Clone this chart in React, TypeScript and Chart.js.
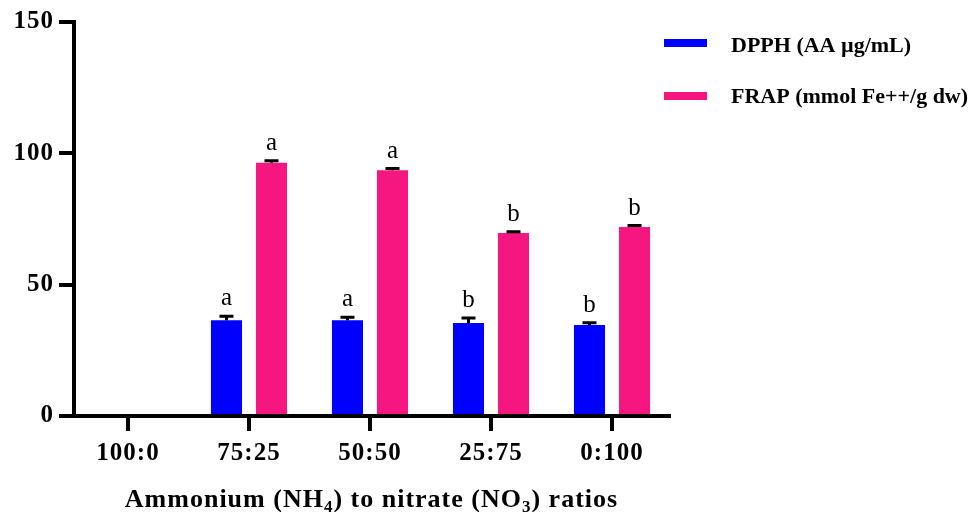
import React, { useEffect, useRef } from "react";
import { Chart, registerables } from "chart.js";

Chart.register(...registerables);

const categories = ["100:0", "75:25", "50:50", "25:75", "0:100"];
const seriesLabels = ["DPPH (AA µg/mL)", "FRAP (mmol Fe++/g dw)"];
const dpphValues: (number | null)[] = [null, 36.5, 36.5, 35.4, 34.6];
const dpphErrors: (number | null)[] = [null, 1.5, 1.1, 1.9, 0.9];
const frapValues: (number | null)[] = [null, 96.4, 93.6, 69.7, 72.0];
const frapErrors: (number | null)[] = [null, 0.8, 0.6, 0.4, 0.5];
const dpphLetters = ["", "a", "a", "b", "b"];
const frapLetters = ["", "a", "a", "b", "b"];
const yTicks = [0, 50, 100, 150];
const xTitleParts: { text: string; sub?: boolean }[] = [
  { text: "Ammonium (NH" },
  { text: "4", sub: true },
  { text: ") to nitrate (NO" },
  { text: "3", sub: true },
  { text: ") ratios" },
];

const BLUE = "#0000FF";
const PINK = "#F5167F";
const SERIF = "'Liberation Serif', 'Times New Roman', serif";

const errors = [dpphErrors, frapErrors];
const letters = [dpphLetters, frapLetters];
const colors = [BLUE, PINK];

const spacingPlugin = {
  id: "spacing",
  beforeDraw(chart: any) {
    (chart.ctx as any).letterSpacing = "1px";
  },
};

const errorBarPlugin = {
  id: "errorBars",
  afterDatasetsDraw(chart: any) {
    const ctx = chart.ctx;
    const yScale = chart.scales.y;
    chart.data.datasets.forEach((ds: any, i: number) => {
      const meta = chart.getDatasetMeta(i);
      meta.data.forEach((el: any, j: number) => {
        const v = ds.data[j].y;
        if (v === null || v === undefined) return;
        const e = errors[i][j] || 0;
        const yTop = yScale.getPixelForValue(v + e);
        ctx.save();
        (ctx as any).letterSpacing = "0px";
        ctx.strokeStyle = "#000";
        ctx.lineWidth = 3;
        ctx.beginPath();
        ctx.moveTo(el.x, el.y);
        ctx.lineTo(el.x, yTop);
        ctx.moveTo(el.x - 7, yTop);
        ctx.lineTo(el.x + 7, yTop);
        ctx.stroke();
        const letter = letters[i][j];
        if (letter) {
          ctx.fillStyle = "#000";
          ctx.font = `25px ${SERIF}`;
          ctx.textAlign = "center";
          ctx.textBaseline = "alphabetic";
          ctx.fillText(letter, el.x, yTop - 11);
        }
        ctx.restore();
      });
    });
  },
};

const decorPlugin = {
  id: "decor",
  afterDraw(chart: any) {
    const ctx = chart.ctx;
    const area = chart.chartArea;
    ctx.save();
    (ctx as any).letterSpacing = "1px";
    // x title with subscripts
    const mainFont = `bold 26px ${SERIF}`;
    const subFont = `bold 17px ${SERIF}`;
    let total = 0;
    xTitleParts.forEach((p) => {
      ctx.font = p.sub ? subFont : mainFont;
      total += ctx.measureText(p.text).width;
    });
    let x = (area.left + area.right) / 2 - total / 2;
    const baseline = 507;
    ctx.fillStyle = "#000";
    ctx.textAlign = "left";
    ctx.textBaseline = "alphabetic";
    xTitleParts.forEach((p) => {
      ctx.font = p.sub ? subFont : mainFont;
      ctx.fillText(p.text, x, p.sub ? baseline + 5 : baseline);
      x += ctx.measureText(p.text).width;
    });
    // legend
    (ctx as any).letterSpacing = "0px";
    const rows = [
      { y: 39, base: 52 },
      { y: 92, base: 103 },
    ];
    seriesLabels.forEach((label, i) => {
      ctx.fillStyle = colors[i];
      ctx.fillRect(664, rows[i].y, 43, 8);
      ctx.fillStyle = "#000";
      ctx.font = `bold 22px ${SERIF}`;
      ctx.fillText(label, 731, rows[i].base);
    });
    ctx.restore();
  },
};

export default function App() {
  const canvasRef = useRef<HTMLCanvasElement | null>(null);

  useEffect(() => {
    document.body.style.margin = "0";
    const canvas = canvasRef.current;
    if (!canvas) return;
    const chart = new Chart(canvas, {
      type: "bar",
      data: {
        datasets: [
          {
            label: seriesLabels[0],
            data: dpphValues.map((v, i) => ({ x: i, y: v })) as any,
            backgroundColor: BLUE,
            borderWidth: 0,
            categoryPercentage: 0.744,
            barPercentage: 0.69,
          },
          {
            label: seriesLabels[1],
            data: frapValues.map((v, i) => ({ x: i, y: v })) as any,
            backgroundColor: PINK,
            borderWidth: 0,
            categoryPercentage: 0.744,
            barPercentage: 0.69,
          },
        ],
      },
      options: {
        responsive: false,
        animation: false,
        devicePixelRatio: 1,
        layout: { padding: { top: 22, right: 305, bottom: 36, left: 0 } },
        plugins: {
          legend: { display: false },
          tooltip: { enabled: false },
          title: { display: false },
        },
        scales: {
          x: {
            type: "linear",
            offset: false,
            min: -0.446,
            max: 4.471,
            afterBuildTicks: (scale: any) => {
              scale.ticks = categories.map((_, i) => ({ value: i }));
            },
            afterFit: (scale: any) => {
              scale.height = 60;
            },
            ticks: {
              callback: (value: any) => categories[Math.round(Number(value))] ?? "",
              color: "#000",
              font: { family: SERIF, size: 25, weight: "bold" },
              padding: 8,
              maxRotation: 0,
              autoSkip: false,
            },
            grid: {
              display: true,
              offset: false,
              drawOnChartArea: false,
              drawTicks: true,
              tickLength: 15,
              tickWidth: 4,
              tickColor: "#000",
              color: "#000",
              lineWidth: 4,
            },
            border: { display: true, color: "#000", width: 4 },
          },
          y: {
            type: "linear",
            min: 0,
            max: 150,
            afterBuildTicks: (scale: any) => {
              scale.ticks = yTicks.map((v) => ({ value: v }));
            },
            afterFit: (scale: any) => {
              scale.width = 74;
            },
            ticks: {
              color: "#000",
              font: { family: SERIF, size: 25, weight: "bold" },
              padding: 5,
            },
            grid: {
              display: true,
              drawOnChartArea: false,
              drawTicks: true,
              tickLength: 15,
              tickWidth: 4,
              tickColor: "#000",
              color: "#000",
              lineWidth: 4,
            },
            border: { display: true, color: "#000", width: 4 },
          },
        },
      },
      plugins: [spacingPlugin, errorBarPlugin, decorPlugin],
    } as any);
    return () => chart.destroy();
  }, []);

  return (
    <div style={{ position: "absolute", left: 0, top: 0, width: 974, height: 512 }}>
      <canvas ref={canvasRef} width={974} height={512} style={{ width: 974, height: 512 }} />
    </div>
  );
}
